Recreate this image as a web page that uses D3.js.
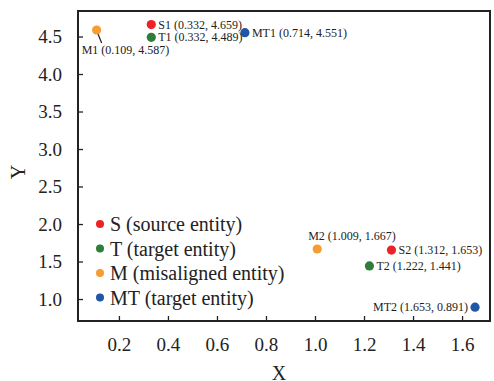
<!DOCTYPE html>
<html>
<head>
<meta charset="utf-8">
<script src="https://cdn.jsdelivr.net/npm/d3@7"></script>
<style>
  body { margin: 0; background: #fff; }
  svg text { font-family: "Liberation Serif", "Times New Roman", serif; }
</style>
</head>
<body>
<svg id="chart" width="494" height="381"></svg>
<script>
// data
const names = ['S1', 'T1', 'M1', 'MT1', 'M2', 'S2', 'T2', 'MT2'];
const kinds = ['S', 'T', 'M', 'MT', 'M', 'S', 'T', 'MT'];
const xs = [0.332, 0.332, 0.109, 0.714, 1.009, 1.312, 1.222, 1.653];
const ys = [4.659, 4.489, 4.587, 4.551, 1.667, 1.653, 1.441, 0.891];
const labelPos = ['right', 'right', 'below', 'right', 'above', 'right', 'right', 'left'];

const legendKeys = ['S', 'T', 'M', 'MT'];
const legendText = ['S (source entity)', 'T (target entity)', 'M (misaligned entity)', 'MT (target entity)'];
const colors = ['#ec2227', '#2e7d3b', '#f79c33', '#1f56a6'];

const xTicks = [0.2, 0.4, 0.6, 0.8, 1.0, 1.2, 1.4, 1.6];
const yTicks = [1.0, 1.5, 2.0, 2.5, 3.0, 3.5, 4.0, 4.5];

const svg = d3.select('#chart');
const m = {left: 78, top: 11, right: 490, bottom: 321};

const x = d3.scaleLinear().domain([0.033, 1.714]).range([m.left, m.right]);
const y = d3.scaleLinear().domain([0.707, 4.84]).range([m.bottom, m.top]);
const color = d3.scaleOrdinal().domain(legendKeys).range(colors);

// axes, ticks pointing inwards
const xAxis = svg.append('g')
    .attr('transform', `translate(0,${m.bottom})`)
    .call(d3.axisBottom(x).tickValues(xTicks).tickFormat(d3.format('.1f'))
        .tickSizeInner(-5).tickSizeOuter(0).tickPadding(17));
const yAxis = svg.append('g')
    .attr('transform', `translate(${m.left},0)`)
    .call(d3.axisLeft(y).tickValues(yTicks).tickFormat(d3.format('.1f'))
        .tickSizeInner(-5).tickSizeOuter(0).tickPadding(16));

[xAxis, yAxis].forEach(a => {
    a.attr('font-family', null);
    a.select('.domain').remove();
    a.selectAll('line').attr('stroke', '#222').attr('stroke-width', 1.3);
    a.selectAll('text').attr('font-size', 19).attr('fill', '#222');
});

// frame
svg.append('rect')
    .attr('x', m.left).attr('y', m.top)
    .attr('width', m.right - m.left).attr('height', m.bottom - m.top)
    .attr('fill', 'none').attr('stroke', '#222').attr('stroke-width', 2);

// axis titles
svg.append('text')
    .attr('x', 279).attr('y', 380)
    .attr('text-anchor', 'middle').attr('font-size', 20).attr('fill', '#222')
    .text('X');
svg.append('text')
    .attr('transform', 'translate(25,172) rotate(-90)')
    .attr('text-anchor', 'middle').attr('font-size', 20).attr('fill', '#222')
    .text('Y');

// points
const pts = names.map((n, i) => ({name: n, kind: kinds[i], x: xs[i], y: ys[i], pos: labelPos[i]}));

const g = svg.append('g');
// leader line for M1
pts.filter(d => d.pos === 'below').forEach(d => {
    g.append('line')
        .attr('x1', x(d.x) + 1).attr('y1', y(d.y) + 3)
        .attr('x2', x(d.x) + 5).attr('y2', y(d.y) + 13)
        .attr('stroke', '#222').attr('stroke-width', 1.2);
});

g.selectAll('circle').data(pts).join('circle')
    .attr('cx', d => x(d.x)).attr('cy', d => y(d.y))
    .attr('r', 4.6)
    .attr('fill', d => color(d.kind));

g.selectAll('text').data(pts).join('text')
    .attr('font-size', 12).attr('fill', '#222')
    .attr('x', d => {
        const px = x(d.x);
        if (d.pos === 'right') return px + 7;
        if (d.pos === 'left') return px - 7;
        if (d.pos === 'above') return px - 9;
        return px - 15;
    })
    .attr('y', d => {
        const py = y(d.y);
        if (d.pos === 'above') return py - 9;
        if (d.pos === 'below') return py + 24;
        return py + 4;
    })
    .attr('text-anchor', d => d.pos === 'left' ? 'end' : 'start')
    .text(d => `${d.name} (${d.x.toFixed(3)}, ${d.y.toFixed(3)})`);

// legend
const leg = svg.append('g');
legendKeys.forEach((k, i) => {
    const ly = 224 + i * 24.5;
    leg.append('circle').attr('cx', 100).attr('cy', ly).attr('r', 4).attr('fill', color(k));
    leg.append('text').attr('x', 110).attr('y', ly + 7)
        .attr('font-size', 20).attr('fill', '#222')
        .text(legendText[i]);
});
</script>
</body>
</html>
